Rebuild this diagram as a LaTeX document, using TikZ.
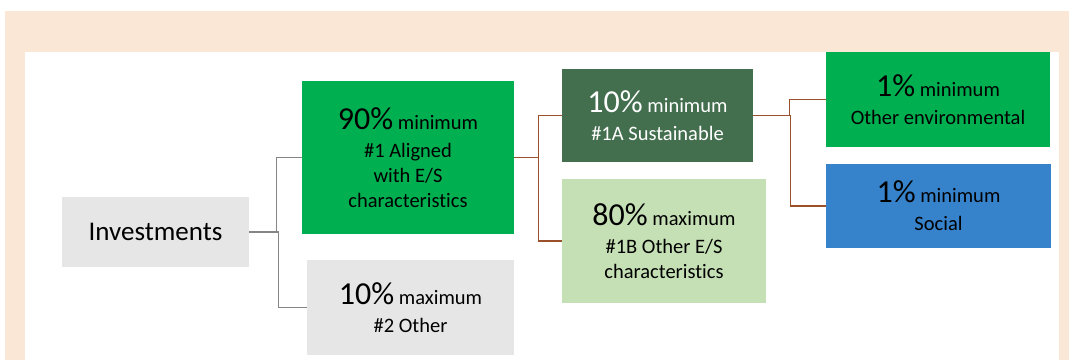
\documentclass[tikz,border=0pt]{standalone}
\usepackage{fontspec}
\setmainfont{Carlito}[Ligatures={NoCommon}]

\definecolor{peach}{HTML}{FAE7D6}
\definecolor{invgray}{HTML}{E6E6E6}
\definecolor{esgreen}{HTML}{00B050}
\definecolor{susgreen}{HTML}{436F4F}
\definecolor{palegreen}{HTML}{C5E0B4}
\definecolor{socblue}{HTML}{3683CC}
\definecolor{linegray}{HTML}{858585}
\definecolor{linebrown}{HTML}{9A5028}

\newcommand{\bignum}[1]{{\fontsize{32}{34}\selectfont #1}}

\begin{document}
\begin{tikzpicture}[x=1pt, y=-1pt,
	box/.style={rectangle, align=center, inner sep=0pt, font=\fontsize{20.5}{25}\selectfont},
	grayline/.style={draw=linegray, line width=1.2pt},
	brownline/.style={draw=linebrown, line width=1.2pt}]
			\useasboundingbox (0,0) rectangle (1069,360);
			\fill[peach] (5,11) rectangle (1069,360);
			\fill[white] (25,52) rectangle (1059,360);

			\node[box, fill=invgray, minimum width=187pt, minimum height=70pt, font=\fontsize{27}{30}\selectfont] (inv) at (155.5,232) {Investments};

			\node[box, fill=esgreen, minimum width=212pt, minimum height=153pt] (aligned) at (408,157.5) {\bignum{90\%} minimum\\[3pt] \#1 Aligned\\ with E/S\\ characteristics};
			\node[box, fill=invgray, minimum width=207pt, minimum height=95pt] (other) at (410.5,307.5) {\bignum{10\%} maximum\\[3pt] \#2 Other};

			\node[box, fill=susgreen, text=white, minimum width=191pt, minimum height=93pt] (sust) at (657.5,115.5) {\bignum{10\%} minimum\\[3pt] \#1A Sustainable};
			\node[box, fill=palegreen, minimum width=204pt, minimum height=124pt] (otheres) at (664,241) {\bignum{80\%} maximum\\[3pt] \#1B Other E/S\\ characteristics};

			\node[box, fill=esgreen, minimum width=224pt, minimum height=95pt] (env) at (938,99.5) {\bignum{1\%} minimum\\[3pt] Other environmental};
			\node[box, fill=socblue, minimum width=225pt, minimum height=84pt] (soc) at (938.5,206) {\bignum{1\%} minimum\\[3pt] Social};

			% connectors
			\draw[grayline] (inv.east) -- +(27,0) |- (aligned.west);
			\draw[grayline] (inv.east) -- +(29,0) |- (other.west);

			\draw[brownline] (aligned.east) -- +(24,0) |- (sust.west);
			\draw[brownline] (aligned.east) -- +(24,0) |- (otheres.west);

			\draw[brownline] (sust.east) -- +(36,0) |- (env.west);
			\draw[brownline] (sust.east) -- +(37,0) |- (soc.west);
		\end{tikzpicture}
\end{document}
